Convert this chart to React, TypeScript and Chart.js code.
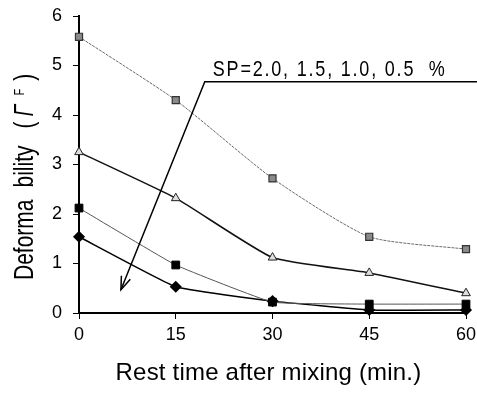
import React, { useEffect, useRef } from "react";
import { Chart, registerables } from "chart.js";

Chart.register(...registerables);

const restTimes = [0, 15, 30, 45, 60];
const sp20 = [5.58, 4.3, 2.72, 1.54, 1.29];
const sp15 = [3.25, 2.32, 1.12, 0.81, 0.4];
const sp10 = [2.12, 0.97, 0.22, 0.18, 0.18];
const sp05 = [1.54, 0.53, 0.24, 0.06, 0.06];
const annotationText = "SP=2.0, 1.5, 1.0, 0.5  %";
const xTitle = "Rest time after mixing (min.)";
const yTitleWords = ["Deforma", "bility"];
const yTitleGamma = "Γ";
const yTitleSup = "F";
// annotation anchor in data units
const annCorner = { x: 19.5, y: 4.67 };
const annRightX = 61.7;
const annArrowTip = { x: 6.5, y: 0.47 };

const FONT = "'Liberation Sans', Arial, sans-serif";

function toPts(vals: number[]) {
  return restTimes.map((t, i) => ({ x: t, y: vals[i] }));
}

const overlayPlugin = {
  id: "overlay",
  afterDraw(chart: any) {
    const ctx = chart.ctx as CanvasRenderingContext2D;
    const xs = chart.scales.x;
    const ys = chart.scales.y;
    ctx.save();
    // annotation line + arrow
    const cx = xs.getPixelForValue(annCorner.x);
    const cy = ys.getPixelForValue(annCorner.y);
    const rx = xs.getPixelForValue(annRightX);
    const tx = xs.getPixelForValue(annArrowTip.x);
    const ty = ys.getPixelForValue(annArrowTip.y);
    ctx.strokeStyle = "#000";
    ctx.lineWidth = 1.5;
    ctx.beginPath();
    ctx.moveTo(rx, cy);
    ctx.lineTo(cx, cy);
    ctx.lineTo(tx, ty);
    ctx.stroke();
    const ang = Math.atan2(ty - cy, tx - cx);
    const ah = 14;
    ctx.beginPath();
    ctx.moveTo(tx - ah * Math.cos(ang - 0.35), ty - ah * Math.sin(ang - 0.35));
    ctx.lineTo(tx, ty);
    ctx.lineTo(tx - ah * Math.cos(ang + 0.35), ty - ah * Math.sin(ang + 0.35));
    ctx.stroke();
    // annotation text (slightly tall, narrow)
    ctx.fillStyle = "#000";
    ctx.save();
    ctx.translate(cx + 8, cy - 6);
    ctx.scale(1, 1.2);
    ctx.font = `18px ${FONT}`;
    ctx.textBaseline = "alphabetic";
    ctx.textAlign = "left";
    (ctx as any).letterSpacing = "1.8px";
    ctx.fillText(annotationText, 0, 0);
    (ctx as any).letterSpacing = "0px";
    ctx.restore();

    // x title
    ctx.save();
    ctx.font = `24px ${FONT}`;
    ctx.textAlign = "center";
    ctx.textBaseline = "alphabetic";
    (ctx as any).letterSpacing = "0.2px";
    ctx.fillText(xTitle, (xs.left + xs.right) / 2 - 4, 380);
    (ctx as any).letterSpacing = "0px";
    ctx.restore();

    // y title rotated, tall narrow letters
    ctx.save();
    ctx.translate(33, 280);
    ctx.rotate(-Math.PI / 2);
    ctx.scale(1, 1.33);
    ctx.textAlign = "left";
    ctx.textBaseline = "alphabetic";
    ctx.font = `21px ${FONT}`;
    let x = 0;
    ctx.fillText(yTitleWords[0], x, 0);
    x += ctx.measureText(yTitleWords[0]).width + 12;
    ctx.fillText(yTitleWords[1], x, 0);
    x += ctx.measureText(yTitleWords[1]).width + 17;
    ctx.fillText("(", x, 0);
    x += ctx.measureText("(").width + 5;
    ctx.font = `italic 21px ${FONT}`;
    ctx.fillText(yTitleGamma, x, 0);
    x += ctx.measureText(yTitleGamma).width + 9;
    ctx.font = `11px ${FONT}`;
    ctx.fillText(yTitleSup, x, -7);
    x += ctx.measureText(yTitleSup).width + 8;
    ctx.font = `21px ${FONT}`;
    ctx.fillText(")", x, 0);
    ctx.restore();

    ctx.restore();
  },
};

export default function App() {
  const ref = useRef<HTMLCanvasElement | null>(null);
  useEffect(() => {
    if (!ref.current) return;
    const chart = new Chart(ref.current, {
      type: "line",
      data: {
        datasets: [
          {
            label: "SP 2.0%",
            data: toPts(sp20),
            borderColor: "#6a6a6a",
            borderWidth: 1,
            borderDash: [3, 1],
            pointStyle: "rect",
            pointRadius: 5,
            pointBackgroundColor: "#8a8a8a",
            pointBorderColor: "#333",
            pointBorderWidth: 1.2,
            tension: 0.2,
            clip: false,
          },
          {
            label: "SP 1.5%",
            data: toPts(sp15),
            borderColor: "#111",
            borderWidth: 1.5,
            pointStyle: "triangle",
            pointRadius: 5,
            pointBackgroundColor: "#ddd",
            pointBorderColor: "#222",
            pointBorderWidth: 1,
            tension: 0.15,
            clip: false,
          },
          {
            label: "SP 1.0%",
            data: toPts(sp10),
            borderColor: "#555",
            borderWidth: 1,
            pointStyle: "rect",
            pointRadius: 5.5,
            pointBackgroundColor: "#000",
            pointBorderColor: "#000",
            tension: 0.1,
            clip: false,
          },
          {
            label: "SP 0.5%",
            data: toPts(sp05),
            borderColor: "#000",
            borderWidth: 1.5,
            pointStyle: "rectRot",
            pointRadius: 5,
            pointBackgroundColor: "#000",
            pointBorderColor: "#000",
            tension: 0.1,
            clip: false,
          },
        ],
      },
      options: {
        animation: false,
        responsive: false,
        layout: { padding: { left: 0, right: 11, top: 16, bottom: 0 } },
        plugins: { legend: { display: false }, tooltip: { enabled: false } },
        scales: {
          x: {
            type: "linear",
            min: 0,
            max: 60,
            ticks: { stepSize: 15, color: "#000", font: { size: 18, family: FONT }, padding: 5 },
            grid: { display: true, drawOnChartArea: false, drawTicks: true, tickLength: 6, color: "#000" },
            border: { display: true, color: "#000", width: 2 },
            afterFit: (s: any) => { s.height = 81; s.paddingLeft = 0; s.paddingRight = 0; },
          },
          y: {
            min: 0,
            max: 6,
            ticks: { stepSize: 1, color: "#000", font: { size: 18, family: FONT }, padding: 11 },
            grid: { display: true, drawOnChartArea: false, drawTicks: true, tickLength: 6, color: "#000" },
            border: { display: true, color: "#000", width: 2 },
            afterFit: (s: any) => { s.width = 79; s.paddingTop = 0; s.paddingBottom = 0; },
          },
        },
      },
      plugins: [overlayPlugin],
    });
    return () => chart.destroy();
  }, []);
  return (
    <div style={{ position: "absolute", left: 0, top: 0, width: 477, height: 394, background: "#fff" }}>
      <canvas ref={ref} width={477} height={394} />
    </div>
  );
}
